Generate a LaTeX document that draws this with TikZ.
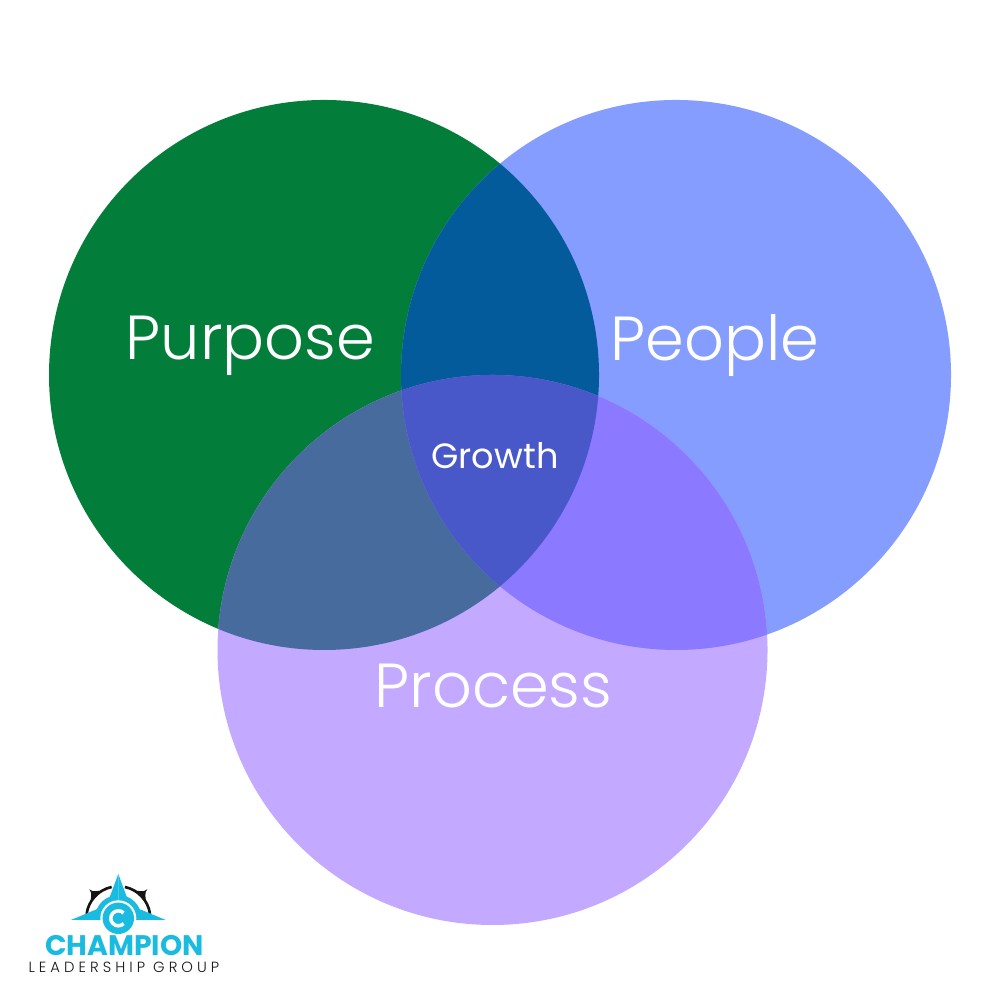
\documentclass[tikz,border=0pt]{standalone}
\usepackage{fontspec}
\setmainfont{Poppins}
\newfontfamily\labelfont{Poppins Light}
\definecolor{purposegreen}{HTML}{037D3A}
\definecolor{peopleblue}{HTML}{859DFF}
\definecolor{processlilac}{HTML}{C3A9FF}
\definecolor{greenblue}{HTML}{035B9B}
\definecolor{greenlilac}{HTML}{476B9D}
\definecolor{bluelilac}{HTML}{8B7AFF}
\definecolor{growthblue}{HTML}{4858C9}
\definecolor{logocyan}{HTML}{19BCE0}
\definecolor{logoblack}{HTML}{151515}
\tikzset{
    setlabel/.style={text=white, inner sep=0pt, font=\labelfont\fontsize{17.7}{20}\selectfont},
    growthlabel/.style={text=white, inner sep=0pt, font=\fontsize{10}{12}\selectfont},
    % Logo styles
    logoname/.style={text=logocyan, inner sep=0pt, font=\bfseries\fontsize{8.05}{9}\selectfont},
    logosub/.style={text=logoblack, inner sep=0pt, font=\labelfont\fontsize{4.2}{5}\selectfont}
}
\begin{document}
\begin{tikzpicture}[scale=1]
    \useasboundingbox (0, 0) rectangle (10, 10);
    \fill[white] (0, 0) rectangle (10, 10);

    % Three circles
    \fill[purposegreen] (3.24, 6.25) circle (2.75);
    \fill[peopleblue] (6.76, 6.25) circle (2.75);
    \fill[processlilac] (4.925, 3.5) circle (2.75);

    % Overlap of two circles
    \begin{scope}
        \clip (3.24, 6.25) circle (2.75);
        \fill[greenblue] (6.76, 6.25) circle (2.75);
        \fill[greenlilac] (4.925, 3.5) circle (2.75);
    \end{scope}
    \begin{scope}
        \clip (6.76, 6.25) circle (2.75);
        \fill[bluelilac] (4.925, 3.5) circle (2.75);
    \end{scope}

    % Overlap of all three
    \begin{scope}
        \clip (3.24, 6.25) circle (2.75);
        \clip (6.76, 6.25) circle (2.75);
        \fill[growthblue] (4.925, 3.5) circle (2.75);
    \end{scope}

    % Labels
    \node[setlabel] (purpose) at (2.505, 6.54) {Purpose};
    \node[setlabel] (people) at (7.15, 6.54) {People};
    \node[setlabel] (process) at (4.935, 3.135) {Process};
    \node[growthlabel] (growth) at (4.95, 5.44) {Growth};

    % Logo: compass points, one side and its mirror image
    \foreach \side in {1, -1} {
        \begin{scope}[shift={(1.183, 0.817)}, xscale=\side]
            \draw[logoblack, line width=0.75pt] (8:0.32) arc (8:78:0.32);
            \fill[logoblack] (45:0.41) .. controls (45:0.36) and (35:0.34) .. (30:0.32)
                -- (60:0.32) .. controls (55:0.34) and (45:0.36) .. cycle;
            \fill[logocyan] (0, 0.443) -- (69:0.233) arc (69:23:0.233) -- (0.474, -0.017) -- (0, -0.017) -- cycle;
        \end{scope}
    }

    % Logo: disc with the letter
    \fill[white] (1.183, 0.817) circle (0.18);
    \fill[logocyan] (1.183, 0.817) circle (0.157);
    \draw[white, line width=1pt] (1.236, 0.870) arc (45:315:0.075);

    % Logo: name
    \node[logoname] (champion) at (1.245, 0.54) {CHAMPION};
    \node[logosub] (leadership) at (1.24, 0.325) {L E A D E R S H I P\ \ G R O U P};
\end{tikzpicture}
\end{document}
